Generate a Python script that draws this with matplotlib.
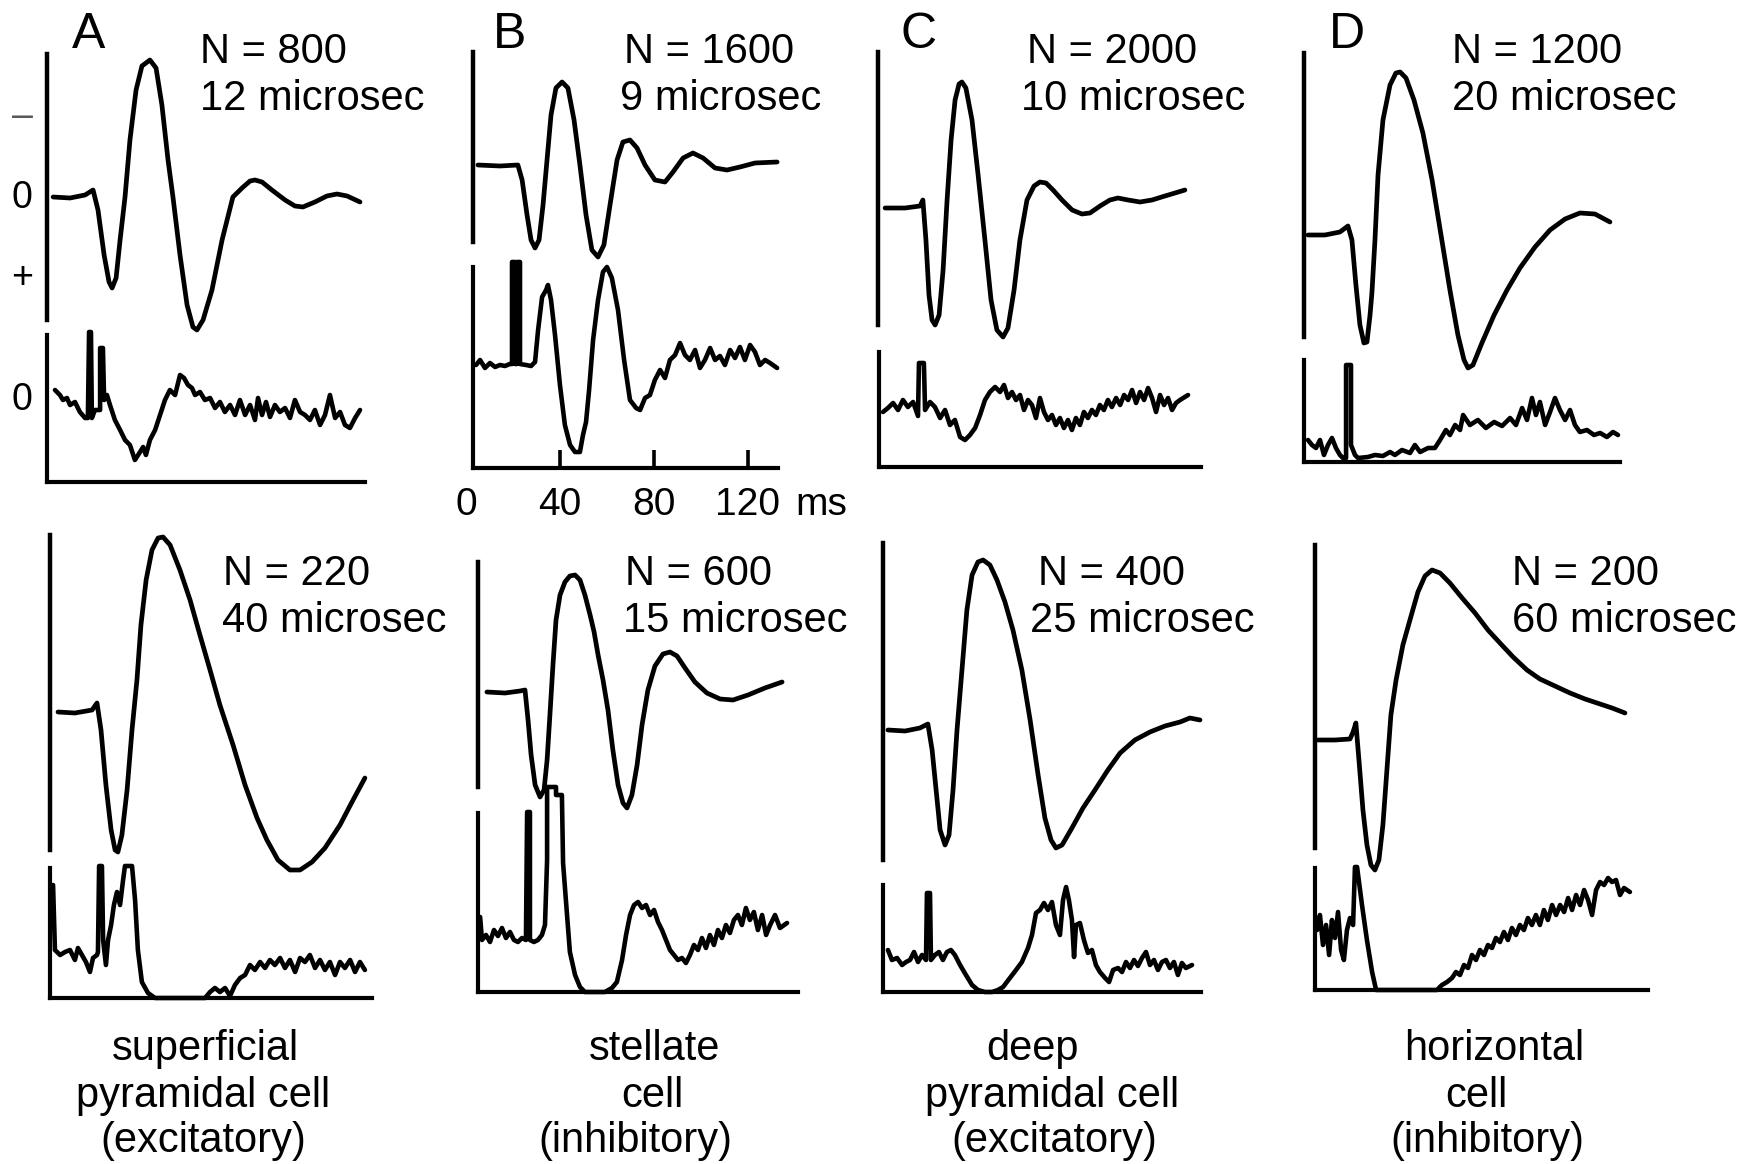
import numpy as np
import matplotlib.pyplot as plt

plt.rcParams['font.family'] = ['Liberation Sans', 'DejaVu Sans']

# time in ms; waveform amplitude in a.u. (negative = up, as in the "-"/"+" scale);
# histogram in counts per bin

# A: superficial pyramidal cell
a1_wave_t = [5.6, 12.8, 19.2, 22.6, 24.7, 27.3, 29.4, 30.7, 32.4, 34.1, 36.2, 38.3, 40.9, 43.4, 46.8, 49.4,
             51.9, 54.5, 56.6, 59.6, 62.6, 65.1, 66.8, 69.4, 73.2, 77.5, 82.1, 86.0, 89.4, 91.5, 94.5, 98.7,
             104.3, 108.5, 111.9, 117.0, 122.1, 126.4, 130.7, 136.2]
a1_wave_v = [0, 1, -2, -7, 13, 58, 85, 91, 81, 43, 0, -57, -107, -131, -137, -129,
             -92, -37, 0, 58, 108, 130, 133, 123, 93, 43, 0, -9, -16, -17, -15, -7,
             3, 9, 10, 5, -1, -3, -1, 5]
a1_hist_t = [6.4, 8.5, 9.8, 11.5, 12.8, 14.9, 17.0, 19.2, 20.4, 20.9, 21.7, 22.1, 23.4, 25.6, 25.6, 26.8,
             27.3, 28.5, 29.8, 31.9, 34.1, 36.2, 38.3, 40.4, 42.6, 43.9, 45.1, 46.8, 49.0, 51.1, 53.2, 55.3,
             57.5, 59.6, 61.3, 63.0, 64.7, 66.0, 68.1, 70.2, 72.4, 74.5, 76.6, 78.7, 80.9, 83.0, 85.1, 87.3,
             89.4, 91.5, 92.8, 94.5, 96.2, 97.9, 100.0, 102.1, 104.3, 106.4, 108.5, 110.7, 112.8, 114.9,
             117.0, 119.2, 121.3, 123.4, 125.6, 127.7, 129.8, 131.9, 134.1, 136.2]
a1_hist_n = [92, 87, 82, 84, 77, 80, 70, 64, 64, 150, 150, 64, 72, 72, 134, 134,
             82, 87, 77, 62, 52, 42, 37, 22, 30, 35, 27, 42, 52, 67, 82, 92,
             87, 107, 104, 97, 94, 87, 90, 82, 84, 74, 80, 70, 77, 67, 82, 67,
             77, 62, 84, 67, 80, 65, 77, 70, 74, 64, 82, 70, 67, 62,
             72, 57, 67, 87, 64, 70, 57, 54, 64, 72]

a2_wave_t = [6.4, 13.6, 20.9, 23.0, 24.7, 26.8, 29.0, 30.7, 31.9, 33.6, 35.8, 37.9, 40.0, 41.7, 43.9, 46.4,
             49.0, 51.1, 54.1, 58.3, 62.6, 66.8, 71.1, 75.3, 80.9, 86.0, 91.1, 95.3, 100.0, 105.1, 109.4,
             114.5, 120.0, 126.4, 131.5, 137.0]
a2_wave_v = [0, 1, -2, -9, 18, 73, 118, 138, 140, 123, 78, 18, -32, -87, -132, -162,
             -174, -175, -167, -142, -112, -77, -42, -7, 33, 73, 106, 128, 148, 158, 158,
             150, 136, 113, 90, 66]
a2_hist_t = [4.3, 5.1, 7.3, 9.4, 11.5, 13.6, 14.9, 16.6, 18.3, 20.0, 21.3, 23.0, 23.4, 23.9, 25.1, 25.6,
             26.8, 27.7, 29.0, 30.2, 31.5, 32.8, 34.1, 34.9, 37.9, 39.2, 40.4, 42.1, 44.7, 47.7, 54.1, 62.6,
             69.0, 71.1, 73.2, 75.3, 77.5, 79.6, 81.7, 83.9, 86.0, 88.1, 90.2, 92.4, 94.5, 96.6, 98.7, 100.9,
             103.0, 105.1, 107.3, 109.4, 111.5, 113.6, 115.8, 117.9, 120.0, 122.1, 124.3, 126.4, 128.5,
             130.7, 132.8, 134.9, 137.0]
a2_hist_n = [113, 48, 43, 46, 48, 38, 50, 43, 36, 26, 40, 43, 46, 132, 132, 58,
             33, 58, 73, 93, 106, 93, 118, 132, 132, 98, 48, 16, 5, 0, 0, 0,
             0, 6, 10, 6, 10, 2, 13, 20, 23, 33, 28, 36, 30, 38, 33, 40,
             30, 38, 26, 40, 36, 43, 30, 38, 28, 36, 23, 36, 30,
             38, 26, 36, 28]

# B: stellate cell
b1_wave_t = [5.1, 14.5, 22.1, 23.9, 26.0, 27.7, 29.4, 31.1, 32.8, 34.5, 36.2, 38.3, 40.9, 43.4, 46.0, 48.5,
             51.1, 53.6, 56.2, 58.7, 61.3, 64.3, 66.8, 69.8, 72.8, 76.2, 80.4, 84.7, 88.1, 92.4, 96.6, 100.9,
             106.0, 111.1, 116.6, 123.0, 132.4]
b1_wave_v = [0, 1, 0, 15, 50, 75, 83, 75, 40, -5, -50, -77, -83, -77, -45, 0,
             50, 85, 92, 80, 40, -5, -23, -25, -17, 0, 15, 17, 7, -7, -12, -7,
             3, 5, 2, -2, -3]
b1_hist_t = [4.3, 6.0, 8.1, 10.2, 12.4, 14.5, 16.6, 18.7, 19.6, 19.6, 20.9, 20.9, 21.7, 21.7, 23.0, 23.0,
             25.6, 27.7, 29.4, 30.7, 32.4, 34.1, 34.9, 36.2, 37.9, 40.0, 42.1, 44.3, 46.4, 48.5, 49.8, 51.1,
             52.4, 54.1, 56.2, 58.3, 60.0, 62.1, 64.7, 67.3, 69.8, 72.4, 74.1, 76.2, 78.3, 80.4, 82.6, 84.7,
             86.8, 89.0, 91.1, 93.2, 95.3, 97.5, 99.6, 101.7, 103.9, 106.0, 108.1, 110.2, 112.4, 114.5,
             116.6, 118.7, 120.9, 123.0, 125.1, 127.3, 129.4, 132.4]
b1_hist_n = [103, 108, 100, 105, 101, 103, 102, 104, 104, 206, 206, 104, 104, 206, 206, 104,
             103, 102, 106, 138, 171, 178, 183, 168, 133, 83, 43, 23, 16, 16, 33, 46,
             78, 128, 168, 196, 201, 190, 158, 108, 68, 60, 58, 70, 73, 88, 98, 90,
             108, 113, 125, 113, 108, 118, 100, 108, 120, 108, 112, 103, 118, 110,
             121, 108, 123, 116, 103, 108, 105, 100]

b2_wave_t = [6.8, 14.5, 20.9, 23.0, 24.3, 25.6, 27.3, 29.4, 31.1, 32.4, 33.6, 34.9, 36.2, 37.9, 40.0, 42.1,
             44.3, 46.4, 48.5, 50.7, 52.4, 54.1, 56.2, 58.3, 60.4, 62.6, 64.7, 66.4, 68.5, 70.7, 72.8, 75.3,
             78.3, 81.7, 84.7, 87.7, 91.1, 95.3, 100.4, 106.0, 111.5, 117.9, 125.1, 132.4]
b2_wave_v = [0, 1, -1, -2, 28, 63, 93, 105, 98, 68, 23, -27, -72, -97, -110, -116,
             -117, -112, -97, -77, -60, -37, -12, 18, 58, 93, 111, 116, 103, 73, 33, -2,
             -26, -38, -40, -36, -24, -10, 1, 7, 8, 3, -4, -10]
b2_hist_t = [3.9, 4.7, 6.4, 8.1, 9.8, 11.5, 13.2, 14.9, 16.6, 18.3, 20.0, 21.7, 23.4, 23.9, 25.1, 25.1,
             26.8, 28.5, 30.2, 31.5, 32.4, 32.4, 36.2, 36.2, 38.7, 39.2, 40.4, 42.1, 44.3, 46.4, 48.5, 52.8,
             57.0, 60.0, 62.1, 64.3, 66.0, 67.7, 69.4, 71.1, 72.8, 74.5, 76.2, 77.9, 79.6, 81.3, 83.0, 84.7,
             86.4, 88.1, 89.8, 91.5, 93.2, 94.9, 96.6, 98.3, 100.0, 101.7, 103.4, 105.1, 106.8, 108.5,
             110.2, 111.9, 113.6, 115.3, 117.0, 118.7, 120.4, 122.1, 123.9, 125.6, 127.3, 129.4, 131.5, 134.5]
b2_hist_n = [75, 52, 57, 50, 62, 56, 64, 54, 60, 52, 50, 54, 52, 180, 180, 52,
             50, 52, 57, 67, 132, 205, 205, 197, 197, 129, 92, 40, 17, 5, 0, 0,
             0, 4, 10, 32, 57, 77, 87, 90, 84, 87, 77, 82, 70, 62, 52, 42,
             37, 32, 34, 29, 37, 47, 42, 54, 44, 57, 47, 62, 54, 67,
             59, 72, 77, 67, 84, 72, 80, 62, 77, 57, 67, 77, 64, 69]

# C: deep pyramidal cell
c1_wave_t = [6.0, 14.5, 20.9, 22.1, 23.4, 24.7, 26.0, 27.3, 29.0, 30.7, 32.4, 34.1, 35.8, 37.5, 38.7, 40.4,
             43.0, 45.6, 48.5, 51.1, 53.6, 56.2, 58.3, 60.9, 63.4, 66.4, 69.4, 71.9, 74.5, 77.5, 81.3, 85.6,
             89.8, 93.2, 97.5, 101.7, 105.1, 109.4, 114.5, 119.6, 125.1, 129.4, 133.6]
c1_wave_v = [0, 0, -2, -8, 32, 87, 112, 117, 107, 62, -8, -68, -108, -124, -126, -120,
             -88, -33, 32, 92, 122, 129, 120, 82, 32, -8, -22, -26, -25, -18, -8, 2,
             6, 5, -2, -8, -10, -8, -6, -8, -12, -15, -18]
c1_hist_t = [4.7, 6.8, 9.0, 11.1, 13.2, 15.3, 17.5, 19.6, 20.0, 22.1, 22.6, 24.7, 26.8, 29.0, 31.1, 33.2,
             35.3, 37.5, 39.6, 41.7, 43.9, 46.0, 48.1, 50.2, 52.4, 54.5, 56.2, 57.9, 59.6, 61.3, 63.0, 64.7,
             66.4, 68.1, 69.8, 71.5, 73.2, 74.9, 76.6, 78.3, 80.0, 81.7, 83.4, 85.1, 86.8, 88.5, 90.2, 91.9,
             93.6, 95.3, 97.0, 98.7, 100.4, 102.1, 103.9, 105.6, 107.3, 109.0, 110.7, 112.4, 114.1, 115.8,
             117.5, 119.2, 120.9, 122.6, 124.3, 126.0, 127.7, 129.4, 131.1, 134.5]
c1_hist_n = [55, 59, 64, 57, 67, 60, 65, 51, 104, 104, 57, 65, 60, 49, 57, 42,
             47, 30, 27, 32, 39, 52, 67, 75, 80, 75, 82, 69, 75, 67, 72, 57,
             67, 62, 49, 69, 55, 47, 52, 42, 49, 39, 47, 37, 49, 42, 55, 49,
             57, 52, 62, 57, 67, 60, 69, 62, 72, 67, 77, 64, 75, 67,
             79, 69, 55, 72, 62, 69, 57, 64, 67, 72]

c2_wave_t = [5.1, 12.4, 18.7, 22.1, 23.9, 25.6, 27.3, 29.4, 31.1, 32.8, 34.5, 36.6, 38.7, 40.9, 43.4, 45.6,
             48.5, 51.5, 54.9, 58.3, 62.1, 65.6, 69.0, 71.9, 74.5, 76.6, 79.2, 83.4, 88.1, 93.2, 98.7, 103.9,
             110.2, 116.6, 123.0, 129.4, 133.6, 137.9]
c2_wave_v = [0, 1, -2, -6, 20, 60, 100, 115, 105, 60, 0, -60, -120, -155, -168, -170,
             -165, -150, -128, -100, -60, -10, 45, 88, 110, 118, 115, 98, 78, 60, 40, 23,
             10, 2, -4, -8, -12, -10]
c2_hist_t = [5.1, 6.8, 9.0, 11.1, 12.8, 14.5, 16.2, 17.9, 19.6, 21.3, 21.7, 23.0, 23.4, 25.1, 26.8, 28.5,
             30.2, 31.9, 33.6, 35.8, 38.3, 40.9, 43.4, 46.4, 49.4, 51.9, 54.1, 57.0, 59.6, 62.1, 64.7, 66.4,
             68.1, 69.8, 71.5, 73.2, 74.9, 76.6, 78.3, 79.6, 80.9, 82.1, 83.4, 84.3, 85.1, 86.8, 88.5, 90.2,
             91.9, 93.6, 95.3, 97.5, 99.2, 100.9, 103.0, 104.7, 106.4, 108.1, 109.8, 111.5, 113.2, 114.9,
             116.6, 118.3, 120.0, 121.7, 123.4, 125.1, 126.8, 128.5, 130.2, 131.9, 134.5]
c2_hist_n = [42, 32, 34, 27, 30, 32, 40, 30, 37, 32, 99, 99, 32, 37, 40, 32,
             40, 42, 37, 27, 17, 7, 2, 0, 0, 2, 5, 14, 22, 30, 44, 57,
             79, 82, 89, 82, 90, 67, 57, 92, 105, 92, 72, 35, 67, 69, 52, 39,
             42, 27, 20, 14, 10, 22, 24, 20, 30, 24, 32, 26, 34, 40,
             27, 32, 22, 30, 32, 24, 30, 17, 29, 24, 27]

# D: horizontal cell
d1_wave_t = [4.7, 11.9, 18.3, 21.7, 23.4, 25.1, 26.8, 28.5, 29.8, 31.1, 31.9, 33.2, 34.5, 36.6, 39.6, 42.1,
             43.9, 46.4, 49.8, 53.6, 57.5, 61.3, 65.1, 68.5, 71.1, 72.8, 74.9, 78.7, 83.9, 89.4, 94.9, 101.3,
             107.7, 114.1, 120.4, 126.8, 133.2]
d1_wave_v = [0, 0, -3, -9, 5, 50, 90, 108, 107, 80, 58, 5, -60, -115, -150, -162,
             -163, -157, -135, -102, -55, 0, 55, 100, 125, 133, 130, 108, 80, 55, 33, 12,
             -5, -16, -22, -21, -13]
d1_hist_t = [4.7, 6.4, 8.1, 9.8, 11.5, 13.2, 14.9, 16.6, 18.3, 19.6, 20.9, 20.9, 23.0, 23.0, 24.7, 26.0,
             30.2, 33.2, 36.6, 39.6, 41.7, 44.7, 48.1, 50.2, 52.4, 55.8, 58.7, 60.9, 63.4, 65.1, 67.3, 69.4,
             70.7, 73.6, 77.0, 80.4, 83.9, 87.3, 90.7, 93.2, 95.8, 97.9, 100.0, 101.7, 103.4, 105.6, 107.7,
             109.8, 111.9, 114.1, 116.2, 118.3, 120.4, 123.4, 126.4, 129.0, 131.9, 134.5, 136.6]
d1_hist_n = [22, 17, 14, 22, 7, 17, 24, 14, 7, 4, 4, 97, 97, 17, 7, 4,
             5, 7, 6, 10, 7, 12, 9, 17, 10, 14, 14, 22, 32, 27, 37, 32,
             47, 37, 42, 34, 40, 36, 44, 37, 54, 42, 64, 47, 60, 37, 50,
             64, 52, 42, 52, 37, 30, 32, 27, 29, 25, 30, 27]

d2_wave_t = [4.3, 11.5, 17.9, 19.2, 20.4, 21.7, 23.4, 25.1, 26.8, 28.5, 30.2, 31.9, 33.6, 35.3, 37.5, 40.4,
             43.4, 46.8, 49.8, 52.8, 56.2, 60.4, 65.6, 71.1, 76.6, 81.7, 87.3, 93.2, 98.7, 105.1, 111.5,
             117.9, 124.3, 129.4, 134.9]
d2_wave_v = [0, 0, -1, -8, -17, 20, 70, 105, 125, 130, 120, 85, 30, -25, -60, -95,
             -120, -148, -164, -170, -167, -157, -142, -127, -110, -97, -83, -70, -61, -54, -47,
             -41, -36, -32, -27]
d2_hist_t = [3.9, 5.1, 6.4, 7.7, 9.0, 10.2, 11.5, 12.8, 14.1, 15.3, 16.6, 17.9, 19.2, 20.0, 20.9, 23.0,
             25.1, 27.3, 29.0, 37.0, 47.7, 54.9, 57.0, 59.2, 61.3, 63.0, 64.7, 66.4, 68.1, 69.8, 71.5, 73.2,
             74.9, 76.6, 78.3, 80.0, 81.7, 83.4, 85.1, 86.8, 88.5, 90.2, 91.9, 93.6, 95.3, 97.0, 98.7, 100.4,
             102.1, 103.9, 105.6, 107.3, 109.0, 110.7, 112.4, 114.1, 115.8, 117.5, 119.2, 120.9, 122.6,
             124.3, 126.0, 127.7, 129.4, 131.1, 132.8, 134.5, 137.0]
d2_hist_n = [60, 75, 45, 65, 35, 70, 52, 78, 40, 30, 60, 72, 65, 123, 123, 85,
             50, 18, 0, 0, 0, 0, 5, 8, 12, 18, 15, 25, 22, 35, 30, 40,
             35, 45, 42, 52, 48, 58, 50, 62, 55, 65, 60, 72, 65, 75, 65, 80,
             70, 85, 75, 85, 78, 92, 80, 95, 85, 100, 90, 75, 100,
             108, 105, 112, 108, 110, 95, 102, 98]

panel_letters = ['A', 'B', 'C', 'D']
n_top = ['N = 800', 'N = 1600', 'N = 2000', 'N = 1200']
dur_top = ['12 microsec', '9 microsec', '10 microsec', '20 microsec']
n_bot = ['N = 220', 'N = 600', 'N = 400', 'N = 200']
dur_bot = ['40 microsec', '15 microsec', '25 microsec', '60 microsec']
cell_names = [['superficial', 'pyramidal cell', '(excitatory)'],
              ['stellate', 'cell', '(inhibitory)'],
              ['deep', 'pyramidal cell', '(excitatory)'],
              ['horizontal', 'cell', '(inhibitory)']]
time_ticks = [0, 40, 80, 120]

W, H = 1760, 1164
PX_PER_MS = 2.35
T0 = 3.0

fig = plt.figure(figsize=(W / 100, H / 100), dpi=100)


def add_box(left, top, right, bottom):
    ax = fig.add_axes([left / W, 1 - bottom / H, (right - left) / W, (bottom - top) / H])
    ax.set_facecolor('none')
    ax.set_xticks([])
    ax.set_yticks([])
    for s in ['top', 'right', 'bottom', 'left']:
        ax.spines[s].set_visible(False)
    return ax


def wave_panel(box, t, v):
    x0, top, bottom, base, right = box
    ax = add_box(x0, top, right, bottom)
    ax.plot(t, v, color='black', lw=3.4, clip_on=False,
            solid_joinstyle='round', solid_capstyle='round')
    ax.set_xlim(T0, T0 + (right - x0) / PX_PER_MS)
    ax.set_ylim(bottom - base, top - base)
    ax.spines['left'].set_visible(True)
    ax.spines['left'].set_linewidth(3.2)
    return ax


def hist_panel(box, t, n):
    x0, top, bottom, right = box
    ax = add_box(x0, top, right, bottom)
    ax.plot(t, n, color='black', lw=3.3, clip_on=False,
            solid_joinstyle='round', solid_capstyle='round')
    ax.set_xlim(T0, T0 + (right - x0) / PX_PER_MS)
    ax.set_ylim(0, bottom - top)
    for s in ['left', 'bottom']:
        ax.spines[s].set_visible(True)
        ax.spines[s].set_linewidth(3.0)
    return ax


def ftext(x, y, s, **kw):
    kw.setdefault('va', 'baseline')
    fig.text(x / W, 1 - y / H, s, **kw)


waves = [(a1_wave_t, a1_wave_v), (b1_wave_t, b1_wave_v), (c1_wave_t, c1_wave_v), (d1_wave_t, d1_wave_v),
         (a2_wave_t, a2_wave_v), (b2_wave_t, b2_wave_v), (c2_wave_t, c2_wave_v), (d2_wave_t, d2_wave_v)]
hists = [(a1_hist_t, a1_hist_n), (b1_hist_t, b1_hist_n), (c1_hist_t, c1_hist_n), (d1_hist_t, d1_hist_n),
         (a2_hist_t, a2_hist_n), (b2_hist_t, b2_hist_n), (c2_hist_t, c2_hist_n), (d2_hist_t, d2_hist_n)]

# pixel boxes: waveform (x0, top, bottom, baseline, right), histogram (x0, top, bottom, right)
wave_boxes = [(47, 54, 320, 197, 365), (473, 52, 242, 165, 778),
              (878, 52, 325, 208, 1201), (1304, 53, 337, 235, 1620),
              (50, 535, 850, 712, 372), (478, 562, 787, 692, 798),
              (883, 543, 860, 730, 1201), (1315, 545, 848, 740, 1648)]
hist_boxes = [(47, 335, 482, 365), (473, 267, 468, 778),
              (879, 352, 467, 1201), (1304, 360, 462, 1620),
              (50, 868, 998, 372), (478, 813, 992, 798),
              (883, 885, 992, 1201), (1315, 868, 990, 1648)]

hist_axes = []
for i in range(8):
    wave_panel(wave_boxes[i], *waves[i])
    hist_axes.append(hist_panel(hist_boxes[i], *hists[i]))

# time scale on B
axb = hist_axes[1]
axb.set_xticks(time_ticks[1:])
axb.tick_params(axis='x', direction='in', length=13, width=2.6, labelbottom=False)
tr = axb.get_xaxis_transform()
for tk in time_ticks:
    axb.text(tk, -0.234, str(tk), transform=tr, ha='center', va='baseline', fontsize=28)
axb.text(140, -0.234, 'ms', transform=tr, ha='left', va='baseline', fontsize=28)

# amplitude scale on A
ftext(22, 117, '\u2013', ha='center', va='center', fontsize=27, color='0.35')
ftext(22, 208, '0', ha='center', fontsize=27)
ftext(22, 278, '+', ha='center', va='center', fontsize=27)
ftext(22, 410, '0', ha='center', fontsize=27)

letter_x = [89, 510, 919, 1347]
n_top_x = [(200, 200), (624, 620), (1027, 1021), (1452, 1452)]
n_bot_x = [(223, 222), (625, 623), (1038, 1030), (1512, 1512)]
for i in range(4):
    ftext(letter_x[i], 48, panel_letters[i], ha='center', fontsize=36)
    ftext(n_top_x[i][0], 63, n_top[i], fontsize=30)
    ftext(n_top_x[i][1], 110, dur_top[i], fontsize=30)
    ftext(n_bot_x[i][0], 585, n_bot[i], fontsize=30)
    ftext(n_bot_x[i][1], 632, dur_bot[i], fontsize=30)

name_x = [(205, 203, 203), (655, 652, 635), (1032, 1052, 1054), (1494, 1476, 1487)]
name_y = [1060, 1107, 1152]
for i in range(4):
    for j in range(3):
        ftext(name_x[i][j], name_y[j], cell_names[i][j], ha='center', fontsize=30)

fig.savefig('out.png', dpi=100, facecolor='white')
